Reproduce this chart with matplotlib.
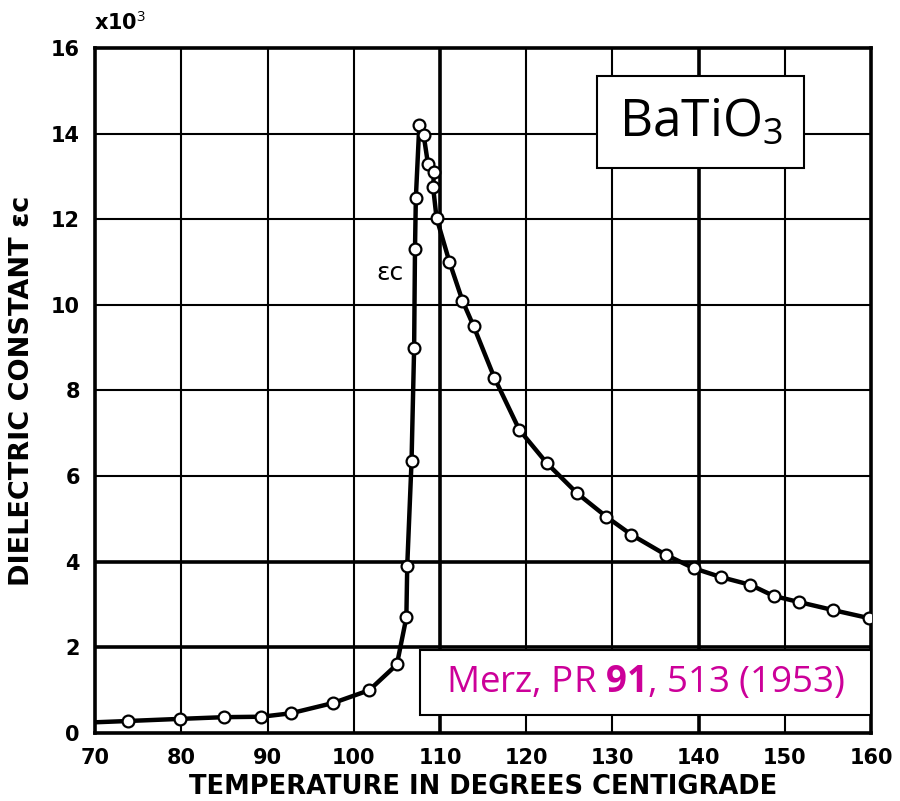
import matplotlib
matplotlib.use("Agg")
import matplotlib.pyplot as plt
from matplotlib.patches import Rectangle

temp = [73.8, 79.9, 85.0, 89.3, 92.7, 97.6, 101.8, 105.0, 106.1, 106.2, 106.7,
        107.0, 107.1, 107.2, 107.6, 108.1, 108.6, 109.3, 109.2, 109.6, 111.1,
        112.6, 113.9, 116.3, 119.2, 122.4, 125.9, 129.3, 132.2, 136.2, 139.4,
        142.6, 146.0, 148.7, 151.6, 155.6, 159.8]
eps_c = [0.28, 0.33, 0.37, 0.38, 0.46, 0.70, 1.0, 1.6, 2.7, 3.9, 6.35,
         9.0, 11.3, 12.5, 14.2, 13.97, 13.3, 13.1, 12.75, 12.03, 11.0,
         10.1, 9.5, 8.3, 7.08, 6.3, 5.6, 5.05, 4.63, 4.16, 3.85,
         3.64, 3.46, 3.2, 3.06, 2.87, 2.68]

# hand drawn line starts at the left axis
curve_start_t = [70.0]
curve_start_e = [0.25]

x_ticks = [70, 80, 90, 100, 110, 120, 130, 140, 150, 160]
y_ticks = [0, 2, 4, 6, 8, 10, 12, 14, 16]
heavy_x = [110, 140]
heavy_y = [2, 4]

plt.rcParams['mathtext.fontset'] = 'custom'
plt.rcParams['mathtext.rm'] = 'Open Sans'
plt.rcParams['mathtext.it'] = 'Open Sans:italic'
plt.rcParams['mathtext.bf'] = 'Open Sans:bold'

fig = plt.figure(figsize=(9, 8.01), dpi=100)
ax = fig.add_axes([0.1056, 0.0849, 0.8624, 0.8552])

# ---- grid ----
for xv in x_ticks[1:-1]:
    ax.axvline(xv, color='black', lw=2.6 if xv in heavy_x else 1.5, zorder=1)
for yv in y_ticks[1:-1]:
    ax.axhline(yv, color='black', lw=2.6 if yv in heavy_y else 1.5, zorder=1)

# ---- curve + points ----
ax.plot(curve_start_t + temp, curve_start_e + eps_c, color='black', lw=3.2,
        zorder=2, solid_joinstyle='round')
ax.plot(temp, eps_c, 'o', ms=8.5, mfc='white', mec='black', mew=1.6, zorder=3)

ax.set_xlim(70, 160)
ax.set_ylim(0, 16)
ax.set_xticks(x_ticks)
ax.set_yticks(y_ticks)
ax.tick_params(length=0, labelsize=15, pad=11)
for lbl in ax.get_xticklabels() + ax.get_yticklabels():
    lbl.set_fontweight('bold')
for s in ax.spines.values():
    s.set_linewidth(2.6)

ax.set_xlabel("TEMPERATURE IN DEGREES CENTIGRADE", fontsize=18.5,
              fontweight='bold', labelpad=4)
ax.set_ylabel("DIELECTRIC CONSTANT \u03b5c", fontsize=19.5,
              fontweight='bold', labelpad=11)

ax.text(104.2, 10.75, "\u03b5c", fontsize=18, ha='center', va='center')
fig.text(0.104, 0.972, r"x10$^3$", fontsize=15, ha='left', va='center',
         family='DejaVu Sans', fontweight='bold')

# ---- boxes ----
fig.patches.append(Rectangle((0.6633, 0.7903), 0.23, 0.1149,
                             transform=fig.transFigure, fc='white',
                             ec='black', lw=1.5, zorder=5))
fig.text(0.7783, 0.8477, r"BaTiO$_3$", fontsize=37, family='Open Sans',
         ha='center', va='center', zorder=6)
fig.patches.append(Rectangle((0.4667, 0.1074), 0.5011, 0.0811,
                             transform=fig.transFigure, fc='white',
                             ec='black', lw=1.5, zorder=5))
fig.text(0.7172, 0.1485, r"Merz, PR $\mathbf{91}$, 513 (1953)", fontsize=26.5,
         family='Open Sans', color='#CC0099', ha='center', va='center',
         zorder=6)

fig.savefig("out.png", dpi=100)
